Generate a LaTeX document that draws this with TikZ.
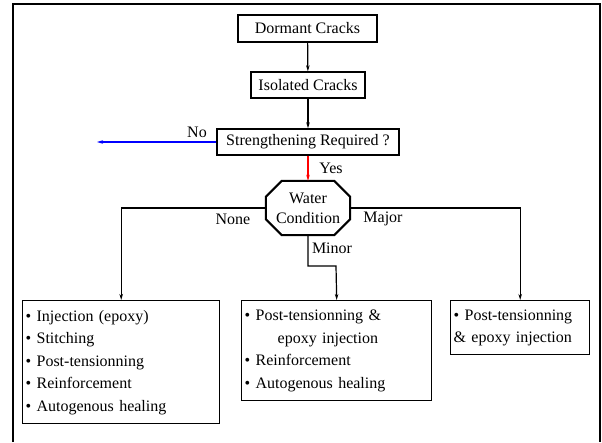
\documentclass[tikz,border=0pt]{standalone}
\usepackage{fontspec}
\setmainfont{Liberation Serif}
\usetikzlibrary{arrows.meta}
\begin{document}
\begin{tikzpicture}[x=1pt,y=-1pt,
  every node/.style={font=\fontsize{16}{22.5}\selectfont},
  box/.style={draw,line width=1.4pt,inner sep=0pt,align=center},
  listbox/.style={draw,line width=1.4pt,inner xsep=3pt,inner ysep=0pt,align=left,anchor=north west},
  conn/.style={line width=1.2pt},
  arr/.style={conn,-{Stealth[length=6pt,width=3.5pt]}},
  lbl/.style={inner sep=0pt}]
\useasboundingbox (0,0) rectangle (602,442);
\fill[white] (0,0) rectangle (602,442);
% frame
\draw[line width=2.2pt] (13,442) -- (13,4) -- (600,4) -- (600,442);

\node[box,minimum width=139pt,minimum height=27pt] (dc) at (307.5,28.5) {Dormant Cracks};
\node[box,minimum width=114pt,minimum height=26pt] (ic) at (308,85) {Isolated Cracks};
\node[box,minimum width=182pt,minimum height=26pt] (sr) at (308,142) {Strengthening Required ?};
\node[inner sep=0pt,minimum width=84pt,minimum height=54pt,align=center,
      font=\fontsize{16}{20}\selectfont] (wc) at (308,208) {Water\\Condition};
\draw[line width=2pt] ([xshift=16pt]wc.north west) -- ([xshift=-16pt]wc.north east)
  -- ([yshift=-16pt]wc.north east) -- ([yshift=16pt]wc.south east)
  -- ([xshift=-16pt]wc.south east) -- ([xshift=16pt]wc.south west)
  -- ([yshift=16pt]wc.south west) -- ([yshift=-16pt]wc.north west) -- cycle;

\node[listbox,text width=191pt,minimum height=123pt] (lb) at (22,300)
  {• Injection (epoxy)\\• Stitching\\• Post-tensionning\\• Reinforcement\\• Autogenous healing};
\node[listbox,text width=184pt,minimum height=100pt] (mb) at (241,300)
  {• Post-tensionning \&\\\hspace*{33pt}epoxy injection\\• Reinforcement\\• Autogenous healing};
\node[listbox,text width=133pt,minimum height=54pt] (rb) at (450,300)
  {• Post-tensionning\\\& epoxy injection};

\coordinate (noend) at (97,142);
\coordinate (mnA) at (308,266);
\coordinate (mnB) at (336,266);

\draw[arr] (dc) -- (ic);
\draw[arr] (ic) -- (sr);
\draw[arr,blue] (sr.west) -- (noend);
\draw[arr,red] (sr.south) -- (wc.north);
\draw[arr] (wc.west) -| (lb.north);
\draw[arr] (wc.east) -| (rb.north);
\draw[arr] (wc.south) -- (mnA) -- (mnB) -- (mb.north);

\node[lbl] (tno) at (197,132) {No};
\node[lbl] (tyes) at (331,168) {Yes};
\node[lbl] (tnone) at (233,219) {None};
\node[lbl] (tmaj) at (383,219) {Major};
\node[lbl] (tmin) at (332,248) {Minor};
\end{tikzpicture}
\end{document}
